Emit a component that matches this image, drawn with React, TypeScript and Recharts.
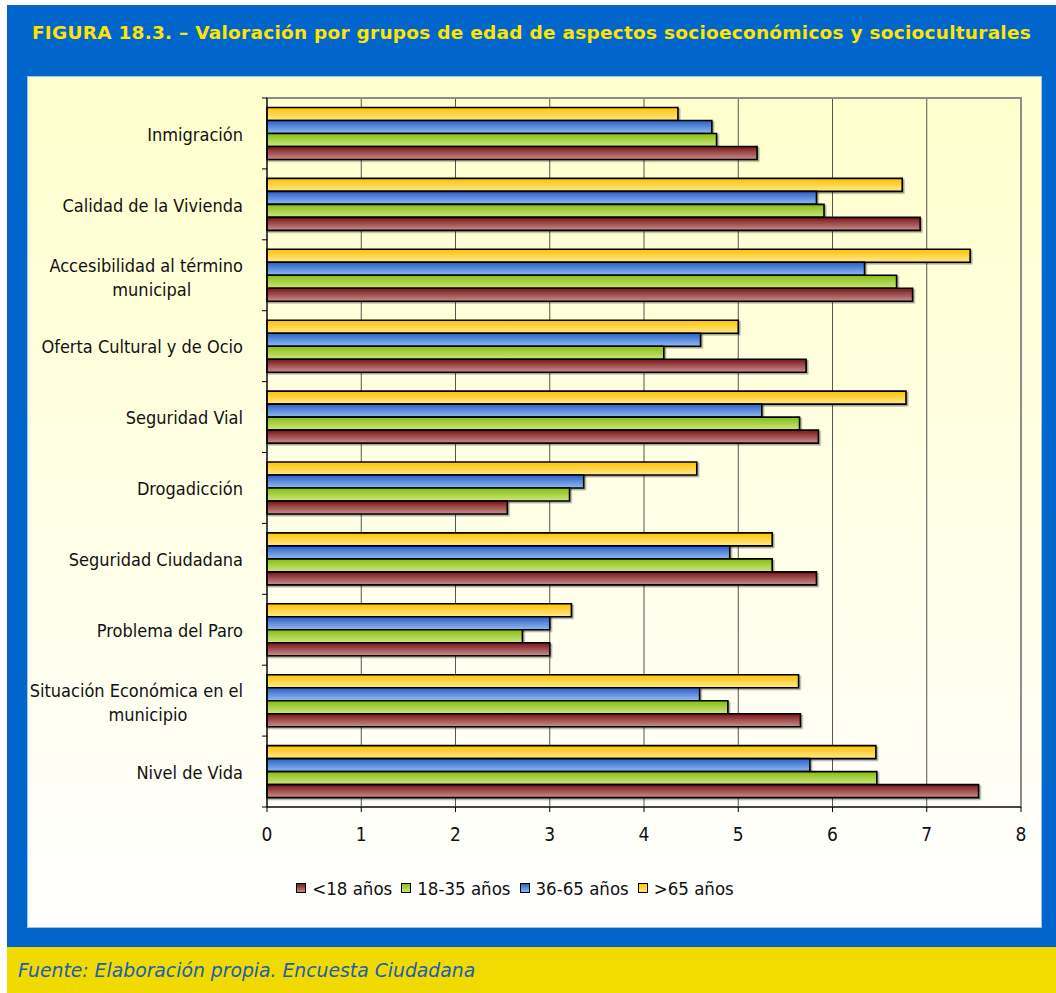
import { BarChart, Bar, XAxis, YAxis, CartesianGrid, Legend, ReferenceArea } from "recharts";

const categories = [
  "Inmigración",
  "Calidad de la Vivienda",
  "Accesibilidad al término municipal",
  "Oferta Cultural y de Ocio",
  "Seguridad Vial",
  "Drogadicción",
  "Seguridad Ciudadana",
  "Problema del Paro",
  "Situación Económica en el municipio",
  "Nivel de Vida",
];

const menores18 = [5.2, 6.93, 6.85, 5.72, 5.85, 2.55, 5.83, 3.0, 5.66, 7.55];
const de18a35 = [4.77, 5.91, 6.68, 4.21, 5.65, 3.21, 5.36, 2.71, 4.89, 6.47];
const de36a65 = [4.72, 5.83, 6.34, 4.6, 5.25, 3.36, 4.91, 3.0, 4.59, 5.76];
const mayores65 = [4.36, 6.74, 7.46, 5.0, 6.78, 4.56, 5.36, 3.23, 5.64, 6.46];

const xTicks = [0, 1, 2, 3, 4, 5, 6, 7, 8];

// legend order (Excel draws first series at the bottom of each group)
const series = [
  { key: "m18", name: "<18 años", grad: "gRed", top: "#761515", bottom: "#cc8e8e" },
  { key: "a35", name: "18-35 años", grad: "gGreen", top: "#86bd12", bottom: "#cde67f" },
  { key: "a65", name: "36-65 años", grad: "gBlue", top: "#2a5ec6", bottom: "#90bcf2" },
  { key: "m65", name: ">65 años", grad: "gYellow", top: "#ffc200", bottom: "#ffe98e" },
];

const data = categories.map((c, i) => ({
  cat: c,
  m18: menores18[i],
  a35: de18a35[i],
  a65: de36a65[i],
  m65: mayores65[i],
}));

const FONT = "'DejaVu Sans Condensed', 'DejaVu Sans', sans-serif";
const BAND = 70.9;

function wrap(label: string): string[] {
  if (label.length <= 25) return [label];
  const cut = label.lastIndexOf(" ", 25);
  return [label.slice(0, cut), label.slice(cut + 1)];
}

const CategoryTick = (props: any) => {
  const { x, y, payload, index } = props;
  const lines = wrap(payload.value);
  const right = x - 24;
  return (
    <g>
      <line x1={x - 5} x2={x} y1={y - BAND / 2} y2={y - BAND / 2} stroke="#000" />
      {index === categories.length - 1 && (
        <line x1={x - 5} x2={x} y1={y + BAND / 2} y2={y + BAND / 2} stroke="#000" />
      )}
      {lines.length === 1 ? (
        <text x={right} y={y + 1} dy="0.35em" textAnchor="end" fontSize={18} fontFamily={FONT} fill="#111">
          {lines[0]}
        </text>
      ) : (
        <g fontSize={18} fontFamily={FONT} fill="#111">
          <text x={right} y={y - 10} dy="0.35em" textAnchor="end">
            {lines[0]}
          </text>
          <text x={right - lines[0].length * 3.8} y={y + 14} dy="0.35em" textAnchor="middle">
            {lines[1]}
          </text>
        </g>
      )}
    </g>
  );
};

const LegendContent = () => (
  <div
    style={{
      height: 24,
      display: "flex",
      justifyContent: "center",
      alignItems: "center",
      fontFamily: FONT,
      fontSize: 18.5,
      color: "#111",
      paddingRight: 10,
    }}
  >
    {series.map((s) => (
      <span key={s.key} style={{ display: "flex", alignItems: "center", marginRight: 9 }}>
        <svg width={10} height={10} style={{ marginRight: 6 }}>
          <defs>
            <linearGradient id={"lg" + s.key} x1="0" y1="0" x2="0" y2="1">
              <stop offset="0%" stopColor={s.top} />
              <stop offset="100%" stopColor={s.bottom} />
            </linearGradient>
          </defs>
          <rect x={0.5} y={0.5} width={9} height={9} fill={"url(#lg" + s.key + ")"} stroke="#000" />
        </svg>
        {s.name}
      </span>
    ))}
  </div>
);

export default function App() {
  return (
    <div style={{ position: "absolute", left: 0, top: 0, width: 1056, height: 993, background: "#fff" }}>
      <div style={{ position: "absolute", left: 7, top: 5, width: 1049, height: 942, background: "#0066cc" }} />
      <div
        style={{
          position: "absolute",
          left: 7,
          top: 22,
          width: 1049,
          textAlign: "center",
          color: "#ffe400",
          fontFamily: "'DejaVu Sans', sans-serif",
          fontWeight: "bold",
          fontSize: 18.5,
          letterSpacing: 0.25,
          whiteSpace: "nowrap",
        }}
      >
        FIGURA 18.3. – Valoración por grupos de edad de aspectos socioeconómicos y socioculturales
      </div>
      <div
        style={{
          position: "absolute",
          left: 28,
          top: 77,
          width: 1013,
          height: 850,
          background: "linear-gradient(#ffffcc, #fffff0 70%, #ffffff)",
          boxShadow: "0 0 0 1px #9cc4ee",
        }}
      >
        <BarChart
          width={1013}
          height={850}
          data={data}
          layout="vertical"
          barCategoryGap={9.5}
          barGap={0}
          margin={{ top: 21, right: 20, left: 0, bottom: 27 }}
        >
          <defs>
            {series.map((s) => (
              <linearGradient key={s.grad} id={s.grad} x1="0" y1="0" x2="0" y2="1">
                <stop offset="0%" stopColor={s.top} />
                <stop offset="100%" stopColor={s.bottom} />
              </linearGradient>
            ))}
            <filter id="shadow" x="-5%" y="-30%" width="110%" height="180%">
              <feDropShadow dx={1.5} dy={1.5} stdDeviation={0.6} floodColor="#000" floodOpacity={0.35} />
            </filter>
          </defs>
          <CartesianGrid vertical horizontal={false} stroke="#555" />
          <ReferenceArea x1={0} x2={8} fill="none" stroke="#8c8c8c" strokeWidth={2} />
          <XAxis
            type="number"
            domain={[0, 8]}
            ticks={xTicks}
            interval={0}
            height={69}
            tickSize={5}
            tickMargin={16}
            axisLine={{ stroke: "#000" }}
            tickLine={{ stroke: "#000" }}
            tick={{ fontSize: 19, fontFamily: FONT, fill: "#111" }}
          />
          <YAxis
            type="category"
            dataKey="cat"
            width={239}
            interval={0}
            tickSize={0}
            tickMargin={0}
            tickLine={false}
            axisLine={{ stroke: "#000" }}
            tick={<CategoryTick />}
          />
          <Legend verticalAlign="bottom" content={<LegendContent />} />
          {[...series].reverse().map((s) => (
            <Bar
              key={s.key}
              dataKey={s.key}
              name={s.name}
              fill={"url(#" + s.grad + ")"}
              stroke="#000"
              strokeWidth={1.6}
              filter="url(#shadow)"
              isAnimationActive={false}
            />
          ))}
        </BarChart>
      </div>
      <div style={{ position: "absolute", left: 7, top: 947, width: 1049, height: 46, background: "#f0da00" }} />
      <div
        style={{
          position: "absolute",
          left: 18,
          top: 960,
          color: "#1a5fb4",
          fontFamily: "'DejaVu Sans', sans-serif",
          fontStyle: "italic",
          fontSize: 18.8,
          whiteSpace: "nowrap",
        }}
      >
        Fuente: Elaboración propia. Encuesta Ciudadana
      </div>
    </div>
  );
}
